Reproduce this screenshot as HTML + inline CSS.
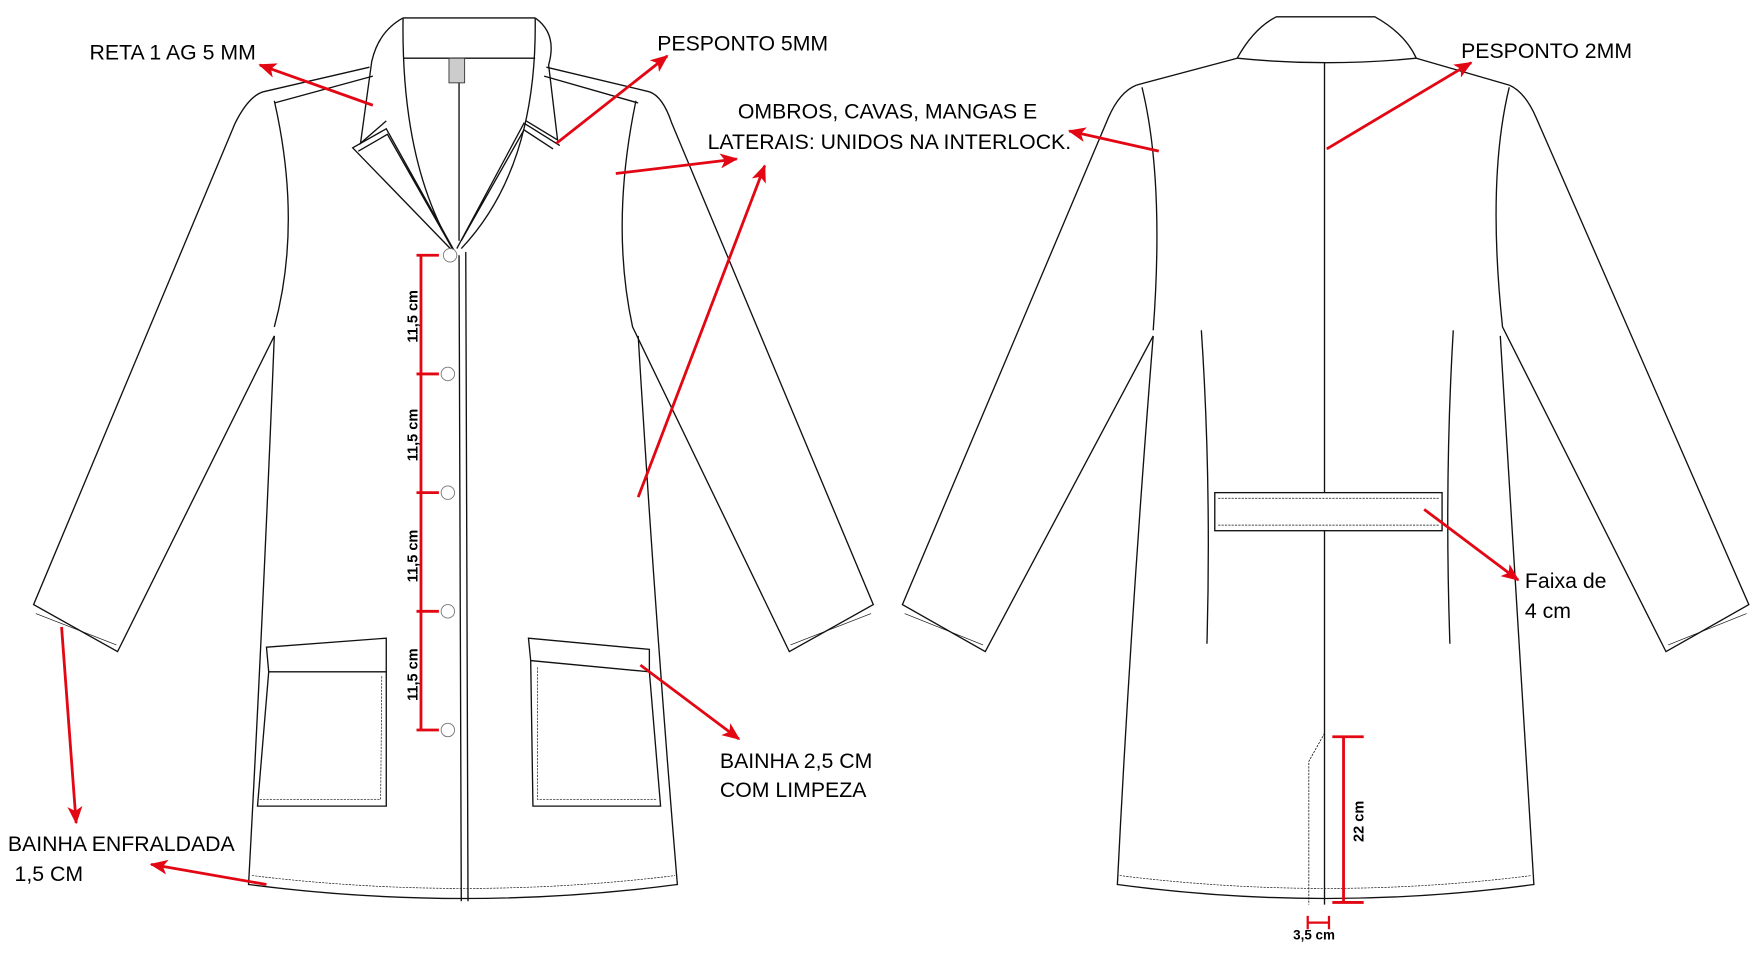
<!DOCTYPE html>
<html><head><meta charset="utf-8"><style>
html,body{margin:0;padding:0;background:#fff;}
svg{display:block;}
text{font-family:"Liberation Sans",sans-serif;}
</style></head><body>
<svg width="1755" height="964" viewBox="0 0 1567.5 861" preserveAspectRatio="none" xmlns="http://www.w3.org/2000/svg">
<defs>
<marker id="a" viewBox="0 0 12 10" refX="11" refY="5" markerWidth="16" markerHeight="14" orient="auto" markerUnits="userSpaceOnUse"><path d="M0,0 L12,5 L0,10 L3,5 Z" fill="#e30613"/></marker>
</defs>
<g fill="none" stroke="#111" stroke-width="1.2">
<!-- FRONT -->
<path d="M360,16 Q338,28 332,55 L322,128 L345,108 M478,16 Q498,30 490,58 L498,125 L470,108" />
<path d="M360,16 L478,16 M360,52 L478,52"/>
<path d="M360,16 Q358,150 408,228 M478,16 Q480,150 412,222"/>
<path d="M410,74 L410,215"/>
<path d="M315,132 L345,115 L408,228 Z M320,135 L346,120 L404,222"/>
<path d="M500,130 L468,110 L408,222 M494,133 L468,116 L412,215"/>
<path d="M330,60 L235,82 M333,68 L245,92 M488,60 L580,82 M486,68 L570,92"/>
<path d="M235,82 Q222,86 210,110 L30,540 L105,582 L245,300"/>
<path d="M32,548 L104,576" stroke-width="0.6"/>
<path d="M245,90 Q270,200 245,292"/>
<path d="M245,300 Q235,550 222,790 Q415,815 605,790 Q585,550 570,300"/>
<path d="M225,782 Q415,805 603,782" stroke-width="0.6" stroke-dasharray="2,1"/>
<path d="M580,82 Q592,86 600,110 L780,540 L705,582 L565,292 Q545,200 568,90"/>
<path d="M706,576 L778,548" stroke-width="0.6"/>
<path d="M410,228 L412,805 M416,225 L418,805"/>
<path d="M238,578 L345,570 L345,600 L240,600 Z M345,600 L345,720 L230,720 L240,600"/>
<path d="M232,714 L340,714 L341,604" stroke-width="0.6" stroke-dasharray="2,1"/>
<path d="M472,570 L580,580 L580,600 L474,590 Z M474,590 L476,720 L590,720 L580,600"/>
<path d="M480,596 L480,714 L586,714" stroke-width="0.6" stroke-dasharray="2,1"/>
</g>
<g fill="#fff" stroke="#777" stroke-width="0.8">
<rect x="401" y="52" width="14" height="22" fill="#ccc" stroke="#333"/>
<circle cx="402" cy="228" r="6"/><circle cx="400" cy="334" r="6"/><circle cx="400" cy="440" r="6"/><circle cx="400" cy="546" r="6"/><circle cx="400" cy="652" r="6"/>
</g>
<!-- BACK -->
<g fill="none" stroke="#111" stroke-width="1.2">
<path d="M1105,52 Q1120,25 1140,15 L1228,15 Q1255,30 1265,52 Q1185,60 1105,52"/>
<path d="M1105,52 L1015,76 M1265,52 L1348,76"/>
<path d="M1015,76 Q1000,82 990,105 L806,540 L880,582 L1030,300"/>
<path d="M808,548 L878,576" stroke-width="0.6"/>
<path d="M1020,78 Q1040,160 1030,295"/>
<path d="M1030,300 Q1010,550 998,790 Q1185,815 1370,790 Q1355,550 1340,300"/>
<path d="M1000,782 Q1185,805 1368,782" stroke-width="0.6" stroke-dasharray="2,1"/>
<path d="M1348,76 Q1362,82 1372,105 L1562,540 L1488,582 L1342,292 Q1328,160 1348,78"/>
<path d="M1490,576 L1560,548" stroke-width="0.6"/>
<path d="M1183,56 L1183,808"/>
<path d="M1183,655 L1169,680 L1169,808" stroke-width="0.7" stroke-dasharray="2,1"/>
<path d="M1073,295 Q1082,430 1078,575 M1298,295 Q1290,430 1295,575"/>
<rect x="1085" y="440" width="203" height="34" fill="#fff"/>
<path d="M1088,445 L1285,445 M1088,469 L1285,469" stroke-width="0.6" stroke-dasharray="2,1"/>
</g>
<!-- RED -->
<g stroke="#e30613" stroke-width="2.5" fill="none">
<path d="M333,94 L232,58" marker-end="url(#a)"/>
<path d="M497,128 L596,50" marker-end="url(#a)"/>
<path d="M550,155 L658,142" marker-end="url(#a)"/>
<path d="M570,444 L683,148" marker-end="url(#a)"/>
<path d="M1035,135 L955,117" marker-end="url(#a)"/>
<path d="M1185,133 L1314,56" marker-end="url(#a)"/>
<path d="M1272,455 L1356,518" marker-end="url(#a)"/>
<path d="M572,594 L660,660" marker-end="url(#a)"/>
<path d="M55,560 L68,735" marker-end="url(#a)"/>
<path d="M238,790 L135,772" marker-end="url(#a)"/>
<path d="M376,228 L376,652 M372,228 L392,228 M372,334 L392,334 M372,440 L392,440 M372,546 L392,546 M372,652 L392,652"/>
<path d="M1200,658 L1200,806 M1190,658 L1218,658 M1190,806 L1218,806"/>
<path d="M1168,818 L1168,830 M1187,818 L1187,830 M1168,824 L1187,824" stroke-width="2"/>
</g>
<g fill="#000" font-size="19">
<text x="80" y="53">RETA 1 AG 5 MM</text>
<text x="587" y="45">PESPONTO 5MM</text>
<text x="659" y="106">OMBROS, CAVAS, MANGAS E</text>
<text x="632" y="133">LATERAIS: UNIDOS NA INTERLOCK.</text>
<text x="1305" y="52">PESPONTO 2MM</text>
<text x="1362" y="525">Faixa de</text>
<text x="1362" y="552">4 cm</text>
<text x="643" y="686">BAINHA 2,5 CM</text>
<text x="643" y="712">COM LIMPEZA</text>
<text x="7" y="760">BAINHA ENFRALDADA</text>
<text x="13" y="787">1,5 CM</text>
<g font-size="13" font-weight="bold">
<text transform="translate(373,306) rotate(-90)">11,5 cm</text>
<text transform="translate(373,412) rotate(-90)">11,5 cm</text>
<text transform="translate(373,520) rotate(-90)">11,5 cm</text>
<text transform="translate(373,626) rotate(-90)">11,5 cm</text>
<text transform="translate(1218,752) rotate(-90)">22 cm</text>
<text x="1155" y="839" font-size="12">3,5 cm</text>
</g>
</g>
</svg>
</body></html>
